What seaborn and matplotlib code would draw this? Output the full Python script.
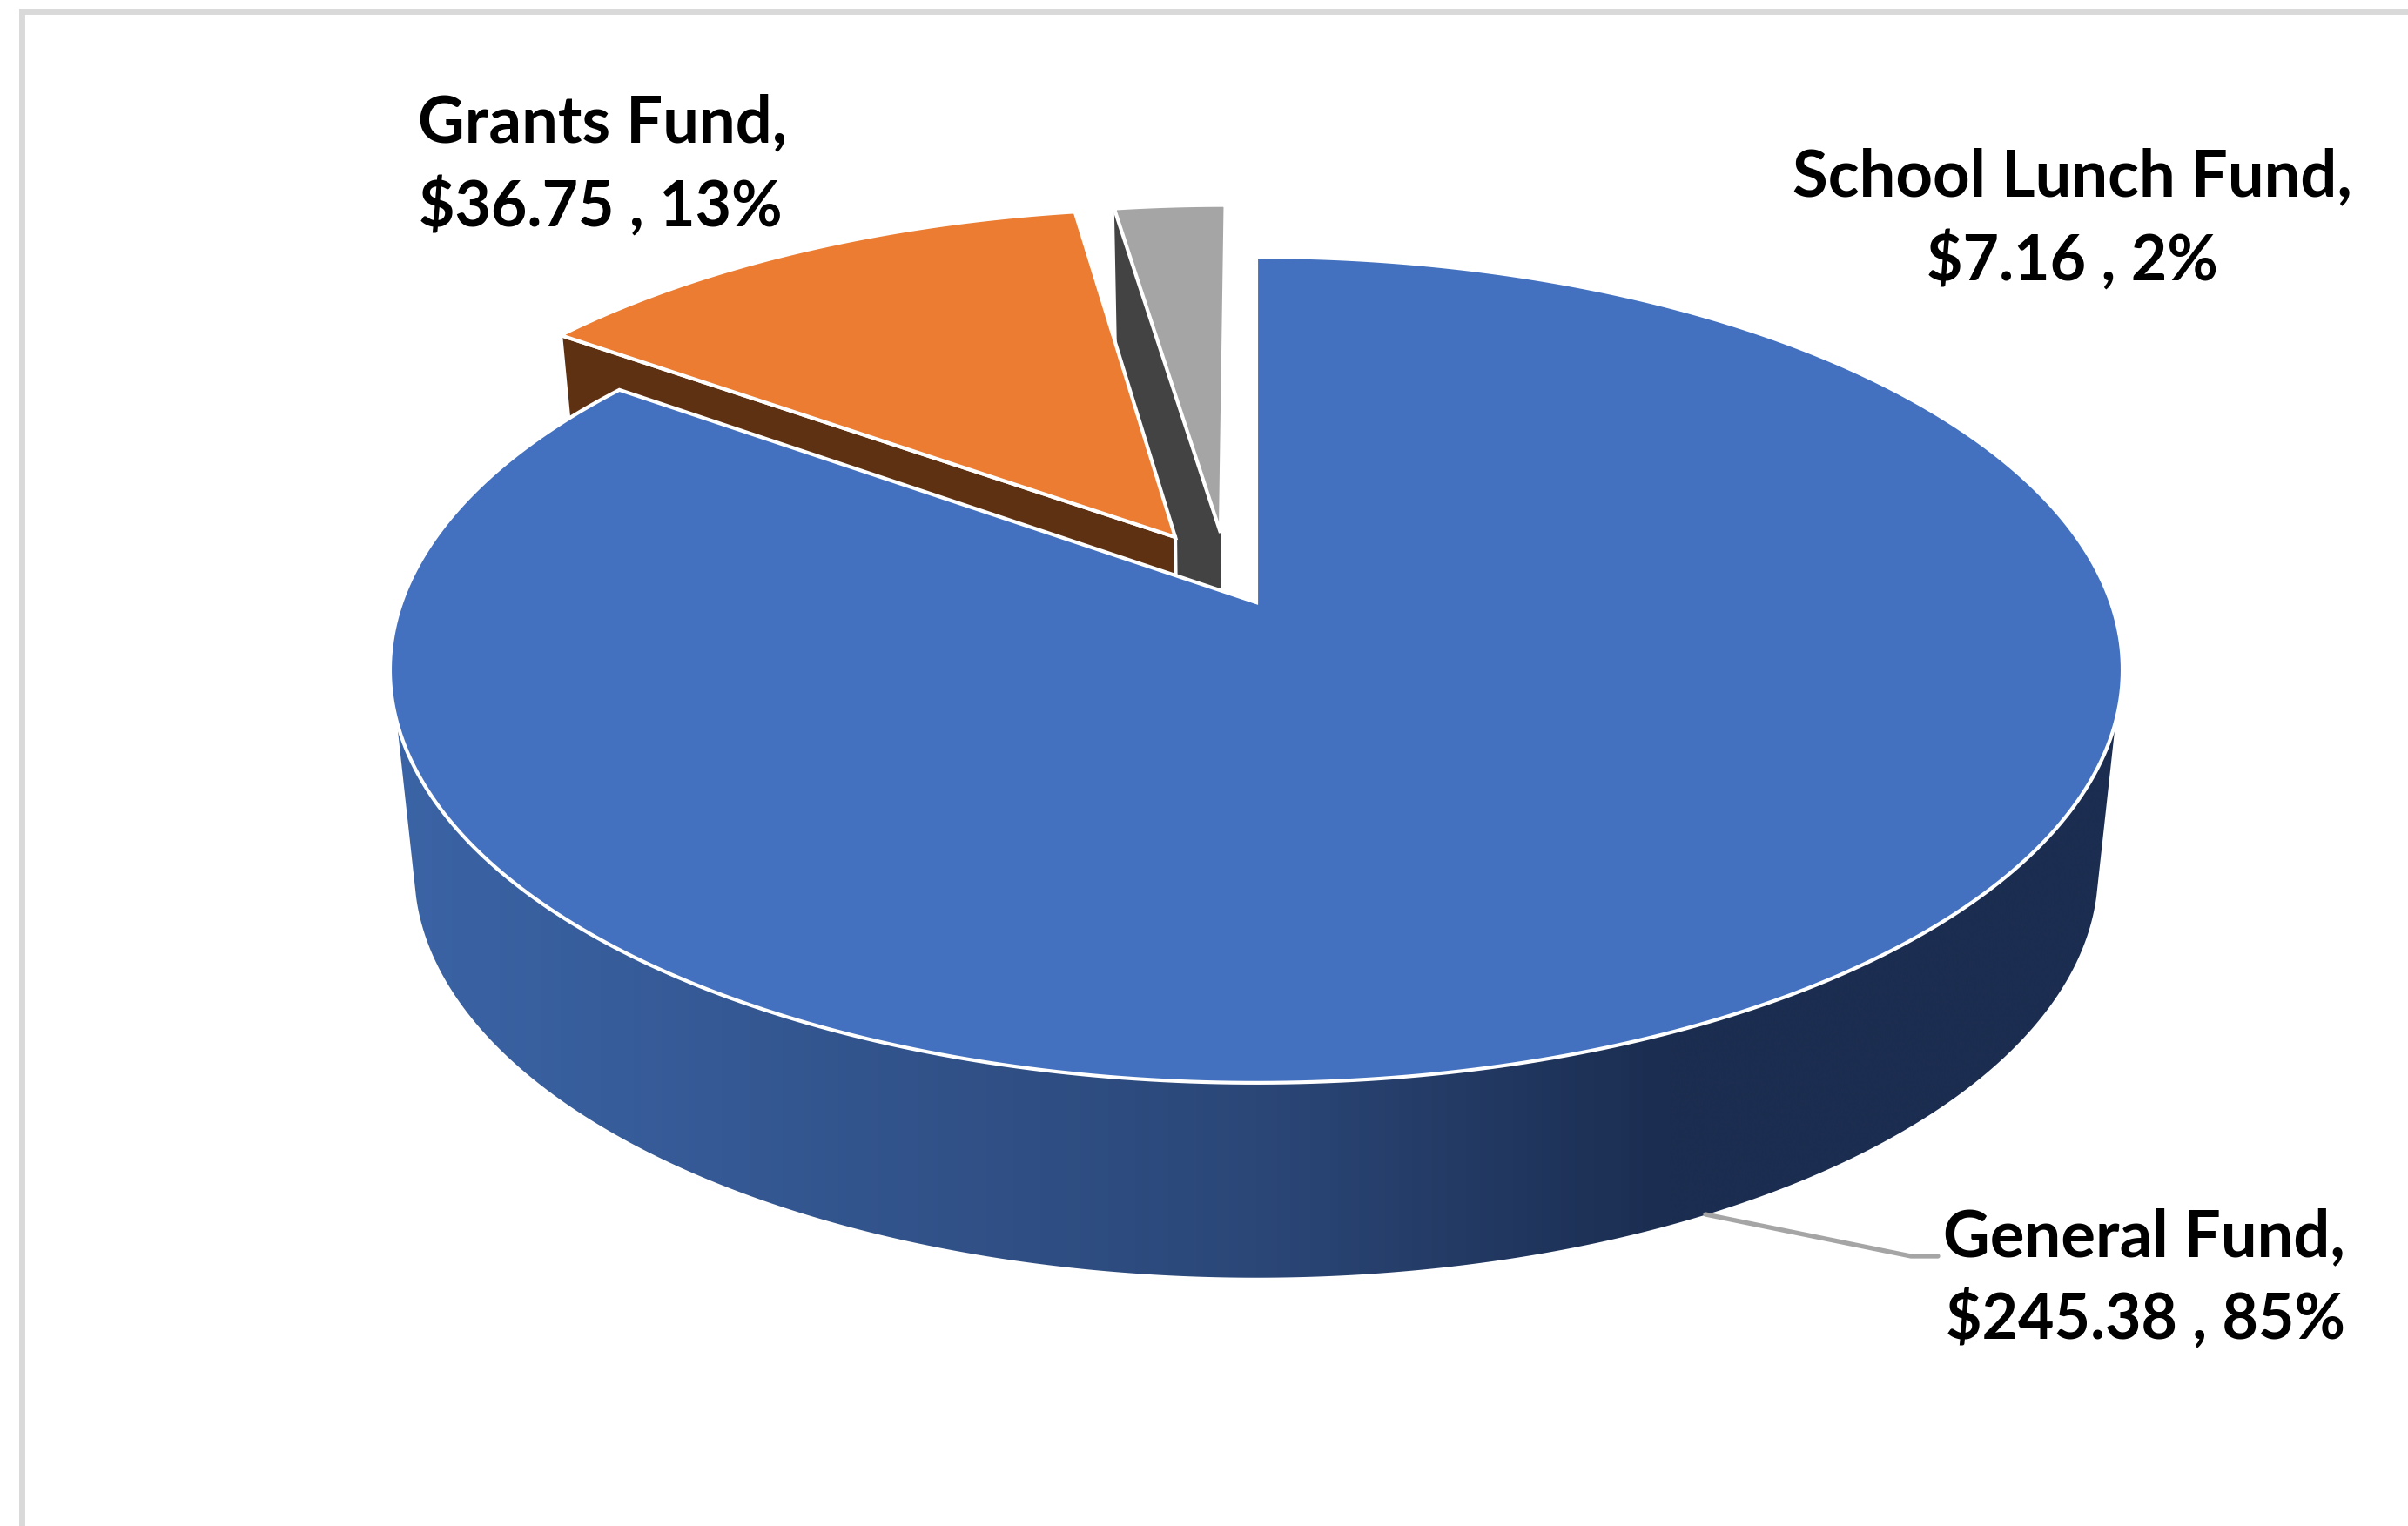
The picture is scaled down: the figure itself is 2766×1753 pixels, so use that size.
import numpy as np
import matplotlib
matplotlib.use("Agg")
import matplotlib.pyplot as plt
from matplotlib.colors import LinearSegmentedColormap
from matplotlib.patches import Polygon
import seaborn as sns

# Fund totals, in the order the slices run clockwise from twelve o'clock
funds = ["General Fund", "Grants Fund", "School Lunch Fund"]
amounts = [245.38, 36.75, 7.16]
shares = [85, 13, 2]

sns.set_theme(style="white")
plt.rcParams["font.family"] = ["Lato", "DejaVu Sans"]

face_colors = sns.color_palette(["#4371BF", "#EB7C31", "#A5A5A5"])
cut_colors = sns.color_palette(["#2B4778", "#5F3113", "#434343"])
wall_colors = ["#3B64A6", "#2B4778", "#1B2D50", "#1B2D50"]
wall_stops = [0.0, 0.50, 0.74, 1.0]

# Perspective of the disc: scale, tilt and screen position of its hub
WIDTH, HEIGHT = 981.7, 461.8
TILT = 0.1632
HUB_X, HUB_TOP, HUB_BOTTOM = 1443.0, 692.0, 923.6
BOTTOM_SCALE_X, BOTTOM_SCALE_Y = 0.9719, 0.986

# Slices pulled out of the disc, in disc units
pull_out = [(0.0, 0.0), (-0.0973, 0.1668), (-0.043, 0.1783)]

EDGE = 3.0


def project(u, v, lower=False):
    """Map a point of the unit disc to figure pixels, top or bottom surface."""
    w = 1 + TILT * v
    sx = BOTTOM_SCALE_X if lower else 1.0
    sy = BOTTOM_SCALE_Y if lower else 1.0
    hub_y = HUB_BOTTOM if lower else HUB_TOP
    return HUB_X + sx * WIDTH * u / w, hub_y - sy * HEIGHT * v / w


def rim(start, stop, offset=(0.0, 0.0), lower=False, n=400):
    """Rim points between two clockwise angles measured from twelve o'clock."""
    theta = np.radians(np.linspace(start, stop, n))
    return project(offset[0] + np.sin(theta), offset[1] + np.cos(theta), lower)


def top_face(start, stop, offset):
    x, y = rim(start, stop, offset)
    hx, hy = project(*offset)
    return np.r_[hx, x], np.r_[hy, y]


def cut_face(angle, offset):
    """Radial cut of a slice, from its rim point to its hub and down."""
    t = np.radians(angle)
    ou, ov = offset[0] + np.sin(t), offset[1] + np.cos(t)
    corners = [(ou, ov, False), (offset[0], offset[1], False),
               (offset[0], offset[1], True), (ou, ov, True)]
    pts = [project(u, v, low) for u, v, low in corners]
    return [p[0] for p in pts], [p[1] for p in pts]


fig = plt.figure(figsize=(27.66, 17.53), dpi=100, facecolor="white")
ax = fig.add_axes([0, 0, 1, 1])
ax.set_xlim(0, 2766)
ax.set_ylim(1753, 0)
ax.axis("off")

# Chart frame, visible on the top and left
ax.plot([25, 25, 2766], [1753, 12.5, 12.5], color="#D9D9D9", lw=5,
        solid_joinstyle="miter", zorder=1)

edges = np.cumsum([0.0] + amounts) / sum(amounts) * 360.0

# School Lunch slice
x, y = cut_face(edges[2], pull_out[2])
ax.fill(x, y, color=cut_colors[2], lw=0, zorder=2)
x, y = top_face(edges[2], edges[3], pull_out[2])
ax.fill(x, y, facecolor=face_colors[2], edgecolor="white", lw=EDGE,
        joinstyle="miter", zorder=3)

# Grants slice
x, y = cut_face(edges[1], pull_out[1])
ax.fill(x, y, facecolor=cut_colors[1], edgecolor="white", lw=EDGE,
        joinstyle="miter", zorder=4)
x, y = top_face(edges[1], edges[2], pull_out[1])
ax.fill(x, y, facecolor=face_colors[1], edgecolor="white", lw=EDGE,
        joinstyle="miter", zorder=5)

# Outer wall of the General slice, shaded from left to right; the sides run
# along the tangents joining the upper and lower rims
tx, ty = rim(0, 360, n=1500)
bx, by = rim(0, 360, lower=True, n=1500)
front_bottom = by >= 1029
order = np.argsort(bx[front_bottom])
wall_x = np.r_[tx[(ty >= 828) & (tx < HUB_X)].min(), bx[front_bottom][order],
               tx[(ty >= 828) & (tx > HUB_X)].max()]
wall_y = np.r_[828, by[front_bottom][order], 828]
wall_patch = Polygon(np.c_[wall_x, wall_y], closed=True, transform=ax.transData,
                     facecolor="none", edgecolor="none")
ax.add_patch(wall_patch)
shade = LinearSegmentedColormap.from_list("wall", list(zip(wall_stops, wall_colors)))
image = ax.imshow(np.linspace(0, 1, 1024)[None, :], cmap=shade, aspect="auto",
                  extent=(449, 2438, 1480, 800), zorder=6, interpolation="bilinear")
image.set_clip_path(wall_patch)
ax.set_xlim(0, 2766)
ax.set_ylim(1753, 0)

# General slice, drawn over the cut faces of the two pulled slices
x, y = top_face(edges[0], edges[1], pull_out[0])
ax.fill(x, y, facecolor=face_colors[0], edgecolor="white", lw=EDGE,
        joinstyle="miter", zorder=7)

# Leader line for the General Fund label
ax.plot([1959, 2195, 2226], [1395, 1443, 1443], color="#A5A5A5", lw=3.8,
        solid_joinstyle="miter", zorder=8)


def label(index):
    return f"{funds[index]},", f"${amounts[index]:.2f} , {shares[index]}%"


NAME = dict(fontsize=53.5, fontweight="bold", color="black", va="baseline", zorder=9)
AMOUNT = dict(NAME, fontsize=51.5)
first, second = label(0)
ax.text(2232, 1443, first, ha="left", **NAME)
ax.text(2235, 1538, second, ha="left", **AMOUNT)
first, second = label(1)
ax.text(480, 163, first, ha="left", **NAME)
ax.text(481, 260, second, ha="left", **AMOUNT)
first, second = label(2)
ax.text(2380, 225, first, ha="center", **NAME)
ax.text(2380, 322, second, ha="center", **AMOUNT)

fig.savefig("out.png", dpi=100, facecolor="white")
